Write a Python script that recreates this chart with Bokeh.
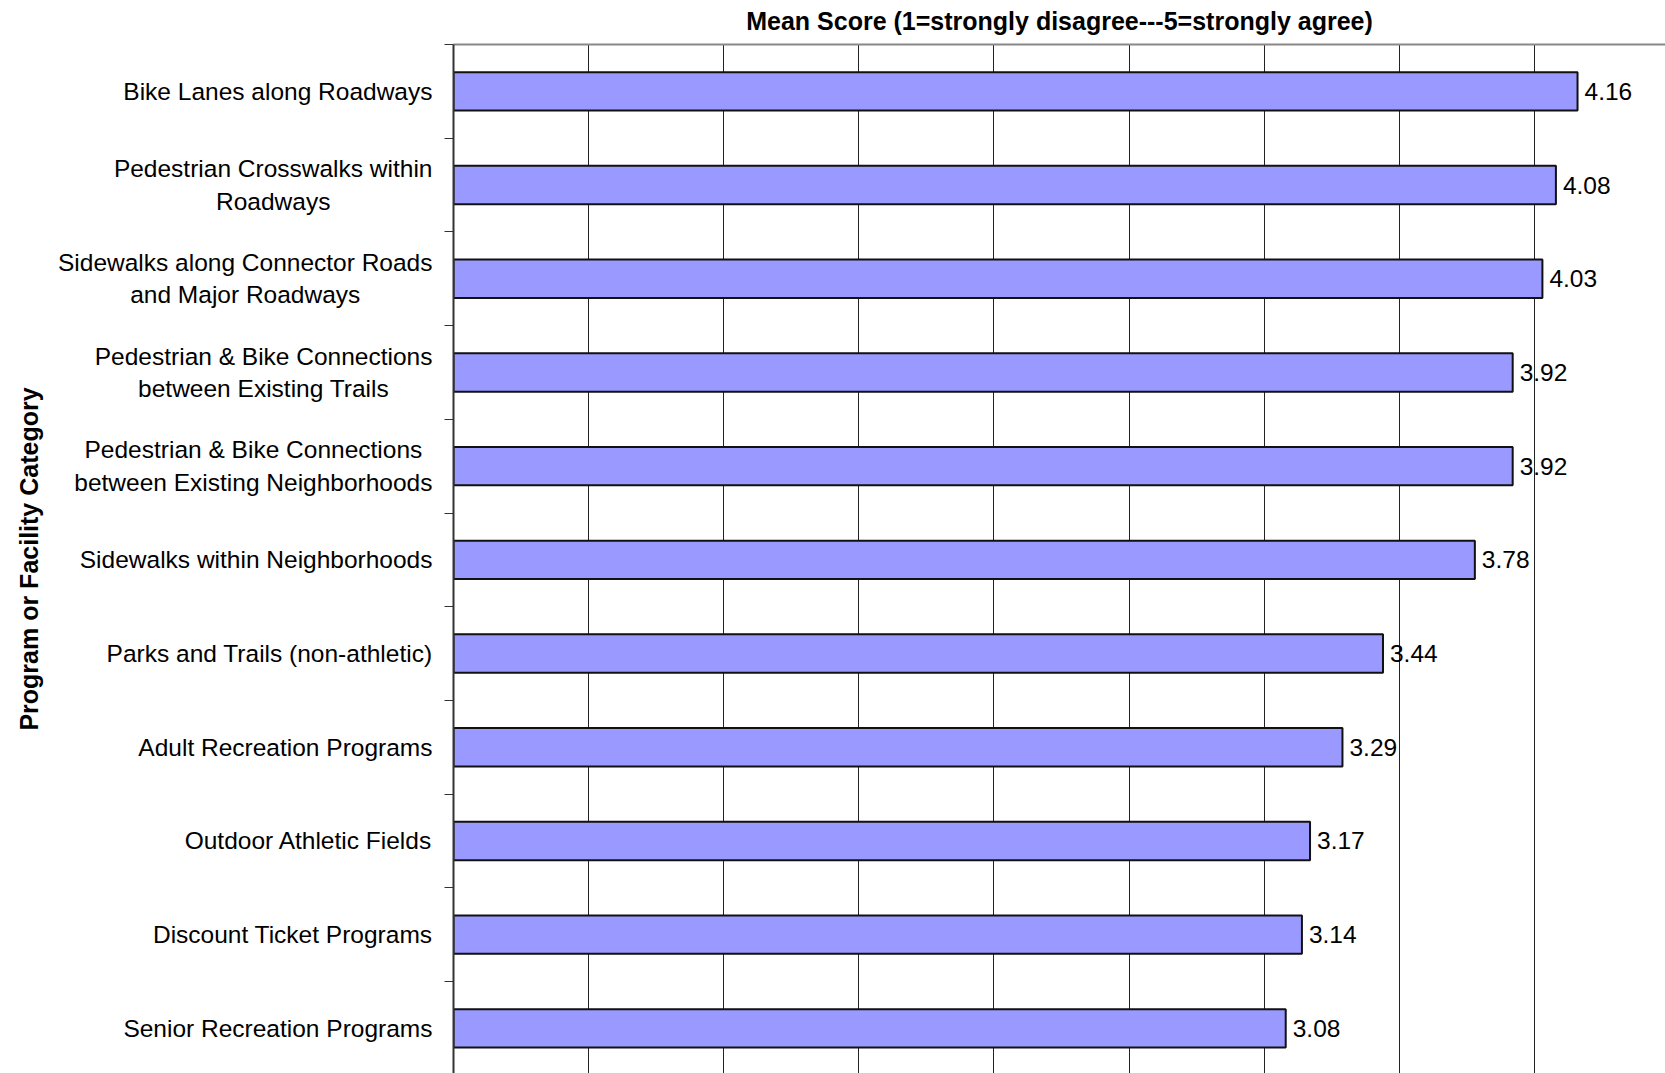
import math
from bokeh.plotting import figure
from bokeh.layouts import row
from bokeh.models import FixedTicker, LinearAxis, ColumnDataSource, Range1d
from bokeh.core.properties import value
from bokeh.embed import file_html
from bokeh.resources import INLINE

categories = [
    "Bike Lanes along Roadways",
    "Pedestrian Crosswalks within\nRoadways",
    "Sidewalks along Connector Roads\nand Major Roadways",
    "Pedestrian & Bike Connections\nbetween Existing Trails",
    "Pedestrian & Bike Connections\nbetween Existing Neighborhoods",
    "Sidewalks within Neighborhoods",
    "Parks and Trails (non-athletic)",
    "Adult Recreation Programs",
    "Outdoor Athletic Fields",
    "Discount Ticket Programs",
    "Senior Recreation Programs",
]
scores = [4.16, 4.08, 4.03, 3.92, 3.92, 3.78, 3.44, 3.29, 3.17, 3.14, 3.08]
grid_values = [0.5, 1.0, 1.5, 2.0, 2.5, 3.0, 3.5, 4.0, 4.5]
x_title = "Mean Score (1=strongly disagree---5=strongly agree)"
y_title = "Program or Facility Category"

n = len(categories)
ypos = [n - i - 0.5 for i in range(n)]
bounds = [float(k) for k in range(n + 1)]
labels = [f"{v:.2f}" for v in scores]

src = ColumnDataSource(dict(y=ypos, score=scores, label=labels))

W, H = 1665, 1073
LEFT, TOP = 453, 44
AXIS_W = 20
LEFT_W = LEFT - AXIS_W
px_per_unit = 270.2
cat_px = 93.7
frame_w = W - LEFT
frame_h = H - TOP
y0 = n - frame_h / cat_px
yr = Range1d(y0, n)

# ---- main plot ----
p = figure(width=W - LEFT_W, height=H, output_backend="svg", toolbar_location=None,
           x_range=Range1d(0, frame_w / px_per_unit), y_range=yr,
           x_axis_location=None, y_axis_location=None,
           min_border_left=AXIS_W, min_border_top=TOP,
           min_border_right=0, min_border_bottom=0)
p.outline_line_color = None
p.background_fill_color = "white"
p.border_fill_color = "white"

p.xgrid.ticker = FixedTicker(ticks=grid_values)
p.xgrid.grid_line_color = "#222222"
p.xgrid.grid_line_width = 1
p.ygrid.grid_line_color = None

yaxis = LinearAxis(ticker=FixedTicker(ticks=[], minor_ticks=bounds))
yaxis.major_tick_line_color = None
yaxis.major_label_text_font_size = "0px"
yaxis.minor_tick_line_color = "#333333"
yaxis.minor_tick_out = 9
yaxis.minor_tick_in = 0
yaxis.minor_tick_line_width = 1
yaxis.axis_line_color = "#333333"
yaxis.axis_line_width = 2
p.add_layout(yaxis, "left")

xaxis = LinearAxis(ticker=FixedTicker(ticks=[]))
xaxis.major_tick_line_color = None
xaxis.minor_tick_line_color = None
xaxis.major_label_text_font_size = "0px"
xaxis.axis_line_color = "#888888"
xaxis.axis_line_width = 2
xaxis.axis_label = x_title
xaxis.axis_label_text_font = "Liberation Sans"
xaxis.axis_label_text_font_style = "bold"
xaxis.axis_label_text_font_size = "25px"
xaxis.axis_label_text_color = "black"
xaxis.axis_label_standoff = 10
p.add_layout(xaxis, "above")

p.hbar(y="y", right="score", left=0, height=0.41, source=src,
       fill_color="#9999FF", line_color="#111111", line_width=2)

p.text(x="score", y="y", text="label", source=src, x_offset=7,
       text_baseline="middle", text_align="left",
       text_font=value("Liberation Sans"), text_font_size="24.5px",
       text_color="black")

# ---- left panel with category labels ----
lp = figure(width=LEFT_W, height=H, output_backend="svg", toolbar_location=None,
            x_range=Range1d(0, LEFT_W), y_range=yr,
            x_axis_location=None, y_axis_location=None,
            min_border_left=0, min_border_top=TOP,
            min_border_right=0, min_border_bottom=0)
lp.outline_line_color = None
lp.xgrid.visible = False
lp.ygrid.visible = False
lp.background_fill_color = "white"
lp.border_fill_color = "white"

lsrc = ColumnDataSource(dict(x=[LEFT_W - 1] * n, y=ypos, text=categories))
lp.text(x="x", y="y", text="text", source=lsrc,
        anchor="center_right", text_align="center", text_baseline="middle",
        text_font=value("Liberation Sans"), text_font_size="24.5px",
        text_color="black", text_line_height=1.2)

tsrc = ColumnDataSource(dict(x=[28], y=[(y0 + n) / 2], text=[y_title]))
lp.text(x="x", y="y", text="text", source=tsrc, angle=math.pi / 2,
        text_align="center", text_baseline="middle",
        text_font=value("Liberation Sans"), text_font_style="bold",
        text_font_size="25px", text_color="black")

layout = row(lp, p, spacing=0)
open("out.html", "w").write(file_html(layout, INLINE))
